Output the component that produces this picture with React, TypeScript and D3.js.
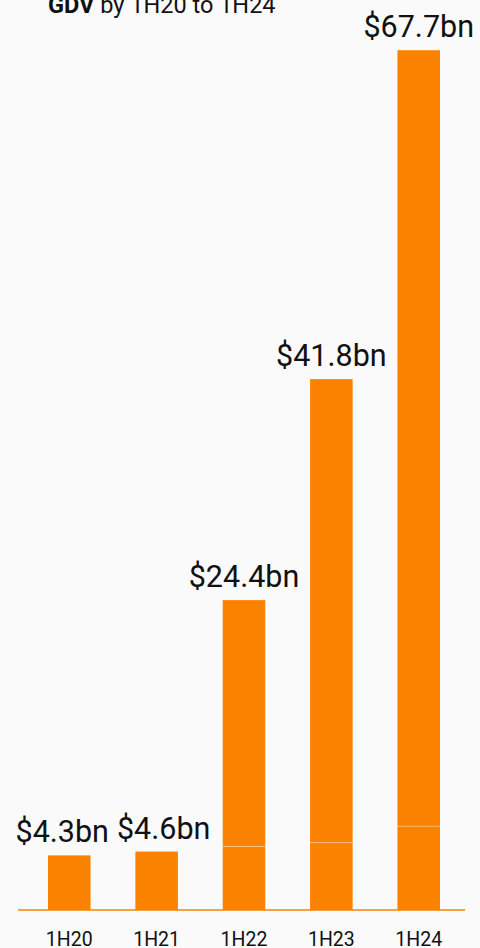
import * as d3 from "d3";
import React, { useEffect, useRef } from "react";

const periods = ["1H20", "1H21", "1H22", "1H23", "1H24"];
const totals = [4.3, 4.6, 24.4, 41.8, 67.7];
const baseSegment = [4.3, 4.6, 5.0, 5.3, 6.6];
const totalLabels = ["$4.3bn", "$4.6bn", "$24.4bn", "$41.8bn", "$67.7bn"];

const W = 480;
const H = 948;
const ORANGE = "#fb8200";

const App: React.FC = () => {
  const svgRef = useRef<SVGSVGElement>(null);
  const x = d3.scaleBand<string>().domain(periods).range([48, 440]).paddingInner(0.513).paddingOuter(0);
  const y = d3.scaleLinear().domain([0, 70]).range([910, 21]);

  const rows = periods.map((p, i) => ({
    period: p,
    base: baseSegment[i],
    total: totals[i],
    label: totalLabels[i],
  }));

  // push apart value labels that sit at the same height and collide
  useEffect(() => {
    const nodes = d3.select(svgRef.current).selectAll<SVGTextElement, unknown>("text.val").nodes();
    for (let i = 0; i < nodes.length - 1; i++) {
      const a = nodes[i].getBBox();
      const b = nodes[i + 1].getBBox();
      const vOverlap = a.y < b.y + b.height && b.y < a.y + a.height;
      const gap = 8;
      const overlap = a.x + a.width + gap - b.x;
      if (vOverlap && overlap > 0) {
        const ax = +nodes[i].getAttribute("x")!;
        const bx = +nodes[i + 1].getAttribute("x")!;
        nodes[i].setAttribute("x", String(ax - overlap / 2));
        nodes[i + 1].setAttribute("x", String(bx + overlap / 2));
      }
    }
  }, []);

  return (
    <svg
      ref={svgRef}
      width={W}
      height={H}
      style={{ position: "absolute", left: 0, top: 0, background: "#fafafa", fontFamily: "Roboto, sans-serif" }}
    >
      <text x={48} y={13} fontSize={23.5} fill="#111">
        <tspan fontWeight="bold">GDV</tspan> by 1H20 to 1H24
      </text>
      {rows.map((d) => (
        <g key={d.period}>
          <rect
            x={x(d.period)}
            y={y(d.base)}
            width={x.bandwidth()}
            height={y(0) - y(d.base)}
            fill={ORANGE}
          />
          {d.total > d.base && (
            <rect
              x={x(d.period)}
              y={y(d.total)}
              width={x.bandwidth()}
              height={y(d.base) - y(d.total)}
              fill={ORANGE}
            />
          )}
          {d.total > d.base && (
            <line
              x1={x(d.period)}
              x2={(x(d.period) || 0) + x.bandwidth()}
              y1={y(d.base)}
              y2={y(d.base)}
              stroke="#ffffff"
              strokeOpacity={0.35}
              strokeWidth={1}
            />
          )}
          <text
            className="val"
            x={(x(d.period) || 0) + x.bandwidth() / 2}
            y={y(d.total) - 13}
            textAnchor="middle"
            fontSize={30.5}
            fill="#111"
          >
            {d.label}
          </text>
          <text
            x={(x(d.period) || 0) + x.bandwidth() / 2}
            y={946}
            textAnchor="middle"
            fontSize={19.5}
            fill="#111"
          >
            {d.period}
          </text>
        </g>
      ))}
      <line x1={18} x2={465} y1={y(0)} y2={y(0)} stroke={ORANGE} strokeWidth={1.5} />
    </svg>
  );
};

export default App;
